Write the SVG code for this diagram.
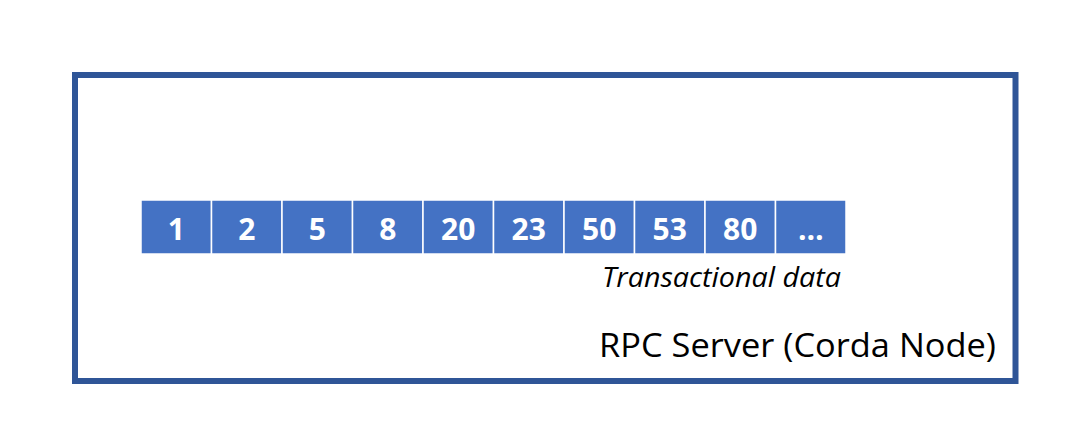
<svg xmlns="http://www.w3.org/2000/svg" width="1087" height="444" viewBox="0 0 1087 444">
<style>
.cell rect{fill:#4472C4;stroke:#ffffff;stroke-width:1.5}
.cell text{font-family:"Open Sans","Liberation Sans",sans-serif;font-weight:bold;font-size:30px;fill:#ffffff;text-anchor:middle}
.lbl{font-family:"Open Sans","Liberation Sans",sans-serif;fill:#000000;text-anchor:end}
</style>
<rect width="1087" height="444" fill="#ffffff"/>
<g id="server">
<rect x="75" y="75" width="940.5" height="306" fill="none" stroke="#2F5597" stroke-width="6"/>
<text class="lbl" x="996" y="357" font-size="33" textLength="397" lengthAdjust="spacingAndGlyphs">RPC Server (Corda Node)</text>
</g>
<g id="data">
<g class="cell" id="c1"><rect x="141" y="200" width="70.5" height="54"/><text x="176.25" y="240">1</text></g>
<g class="cell" id="c2"><rect x="211.5" y="200" width="70.5" height="54"/><text x="246.75" y="240">2</text></g>
<g class="cell" id="c3"><rect x="282" y="200" width="70.5" height="54"/><text x="317.25" y="240">5</text></g>
<g class="cell" id="c4"><rect x="352.5" y="200" width="70.5" height="54"/><text x="387.75" y="240">8</text></g>
<g class="cell" id="c5"><rect x="423" y="200" width="70.5" height="54"/><text x="458.25" y="240">20</text></g>
<g class="cell" id="c6"><rect x="493.5" y="200" width="70.5" height="54"/><text x="528.75" y="240">23</text></g>
<g class="cell" id="c7"><rect x="564" y="200" width="70.5" height="54"/><text x="599.25" y="240">50</text></g>
<g class="cell" id="c8"><rect x="634.5" y="200" width="70.5" height="54"/><text x="669.75" y="240">53</text></g>
<g class="cell" id="c9"><rect x="705" y="200" width="70.5" height="54"/><text x="740.25" y="240">80</text></g>
<g class="cell" id="c10"><rect x="775.5" y="200" width="70.5" height="54"/><text x="810.75" y="240">…</text></g>
<text class="lbl" x="841" y="287" font-size="28" font-style="italic" textLength="239" lengthAdjust="spacingAndGlyphs">Transactional data</text>
</g>
</svg>
